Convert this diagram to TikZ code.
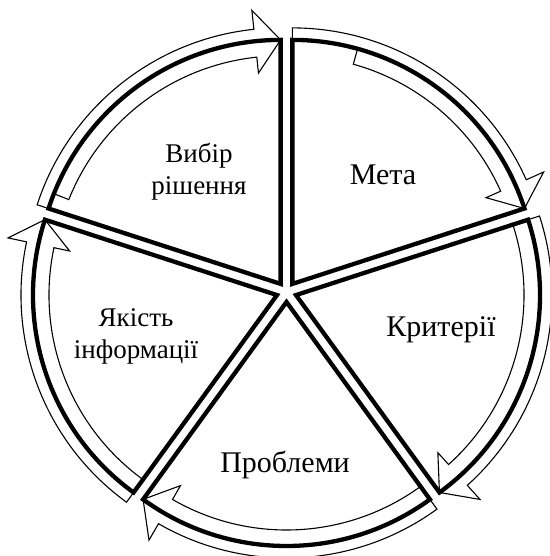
\documentclass[tikz,border=0pt]{standalone}
\usepackage{fontspec}
\setmainfont{Liberation Serif}
\usetikzlibrary{calc}
\begin{document}
\begin{tikzpicture}[x=1pt,y=1pt,
  sector/.style={draw=black,line width=4.3pt,line join=miter},
  arrowband/.style={draw=black,line width=1.1pt,line join=miter},
  lbl/.style={font=\fontsize{30}{33}\selectfont,align=center,inner sep=0pt},
  lbltwo/.style={font=\fontsize{27}{32}\selectfont,align=center,inner sep=0pt}]
\useasboundingbox (0,0) rectangle (549,556);
\coordinate (C) at (286.5,264);
\def\R{244}
\def\dd{10}
\foreach \s/\t/\nm in {18/74.5/M,90/158.3/V,162/234/Y,234/306/P,306/378/K}{
  \pgfmathsetmacro\e{\s+72}
  \pgfmathsetmacro\b{\s+36}
  \pgfmathsetmacro\h{\s+6}
  \coordinate (A\nm) at ($(C)+(\b:\dd)$);
  \draw[arrowband] ($(A\nm)+(\e:\R+12)$) arc[start angle=\e, end angle=\h, radius=\R+12]
     -- ($(A\nm)+(\h:\R+31)$) -- ($(A\nm)+(\s:\R)$) -- ($(A\nm)+(\h:\R-32)$) -- ($(A\nm)+(\h:\R-16)$)
     arc[start angle=\h, end angle=\t, radius=\R-16]
     -- ($(A\nm)+(\t:\R)$) arc[start angle=\t, end angle=\e, radius=\R] -- cycle;
  \draw[sector] (A\nm) -- ($(A\nm)+(\e:\R)$) arc[start angle=\e,end angle=\s,radius=\R] -- cycle;
}
\node[lbl] (meta) at (383,381) {Мета};
\node[lbl] (kryt) at (441,226) {Критерії};
\node[lbl] (probl) at (285,91) {Проблеми};
\node[lbltwo] (yakist) at (136,220) {Якість\\інформації};
\node[lbltwo] (vybir) at (199,384) {Вибір\\рішення};
\end{tikzpicture}
\end{document}
